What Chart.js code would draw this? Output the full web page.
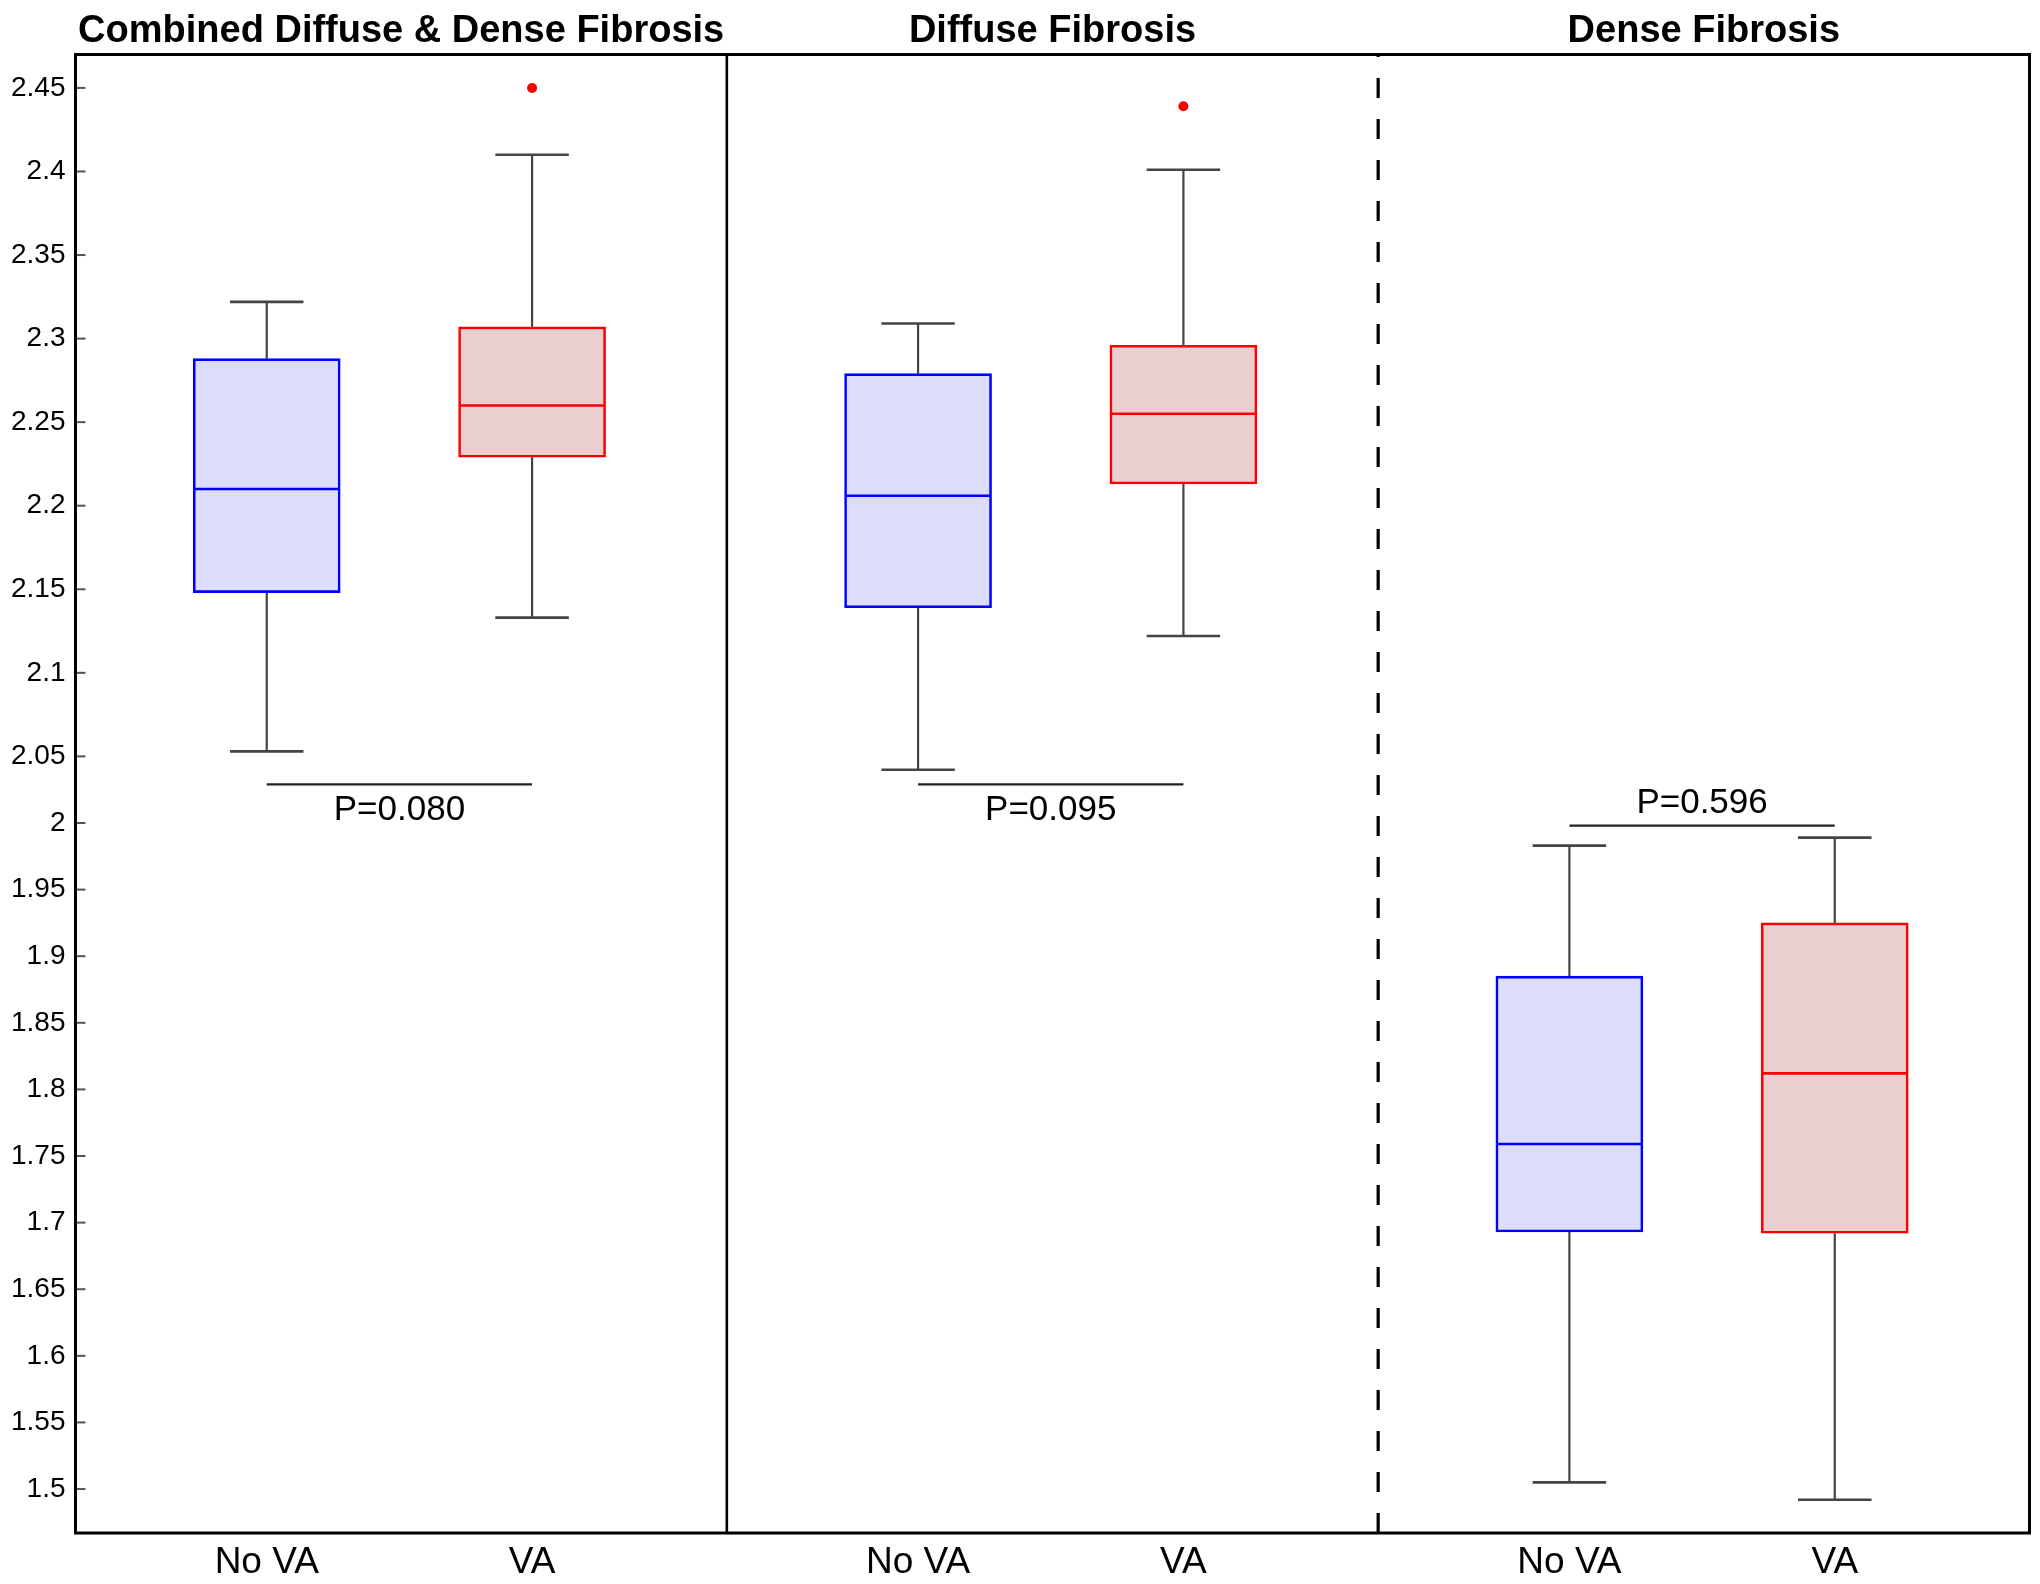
<!DOCTYPE html>
<html><head><meta charset="utf-8">
<script src="https://cdn.jsdelivr.net/npm/chart.js@4.4.1/dist/chart.umd.min.js"></script>
<style>html,body{margin:0;padding:0;background:#fff}canvas{display:block}</style>
</head><body>
<canvas id="c" width="2040" height="1584"></canvas>
<script>
// ---------- DATA ----------
const panelTitles = ['Combined Diffuse & Dense Fibrosis', 'Diffuse Fibrosis', 'Dense Fibrosis'];
const groups = ['No VA', 'VA'];
// each row: one panel, [No VA, VA]
const whiskerLow  = [[2.053, 2.133], [2.040, 2.122], [1.505, 1.492]];
const q1          = [[2.148, 2.229], [2.139, 2.213], [1.693, 1.692]];
const median      = [[2.210, 2.260], [2.206, 2.255], [1.759, 1.812]];
const q3          = [[2.288, 2.307], [2.279, 2.296], [1.885, 1.925]];
const whiskerHigh = [[2.322, 2.410], [2.309, 2.401], [1.983, 1.989]];
const outliers    = [[[], [2.450]], [[], [2.439]], [[], []]];
const pLabels     = ['P=0.080', 'P=0.095', 'P=0.596'];
const pLineValue  = [2.029, 2.029, 1.998];
const pTextAbove  = [false, false, true];
const yTicks      = [1.5, 1.55, 1.6, 1.65, 1.7, 1.75, 1.8, 1.85, 1.9, 1.95, 2, 2.05, 2.1, 2.15, 2.2, 2.25, 2.3, 2.35, 2.4, 2.45];
const yTickLabels = ['1.5', '1.55', '1.6', '1.65', '1.7', '1.75', '1.8', '1.85', '1.9', '1.95', '2', '2.05', '2.1', '2.15', '2.2', '2.25', '2.3', '2.35', '2.4', '2.45'];

// ---------- STYLE / LAYOUT ----------
const GROUP_POS = [0.2936, 0.701];          // position of groups inside a panel (panel = 1 x-unit)
const BOX_PX = 147, CAP_PX = 73.5;
const FILL = ['rgba(220,220,252,1)', 'rgba(234,207,208,1)'];
const EDGE = ['#0000ff', '#ff0000'];
const WHISKER = '#444444';
const FONT = '"Liberation Sans", Arial, Helvetica, sans-serif';

// ---------- piecewise linear y-scale ----------
class BrokenLinearScale extends Chart.LinearScale {
  _total() {
    const b = this.options.breakValue, w = this.options.upperStretch;
    return (b - this.min) + (this.max - b) * w;
  }
  _dec(v) {
    const b = this.options.breakValue, w = this.options.upperStretch;
    const t = v <= b ? (v - this.min) : (b - this.min) + (v - b) * w;
    return t / this._total();
  }
  getPixelForValue(value) {
    if (value === null || value === undefined || isNaN(value)) return NaN;
    return this.getPixelForDecimal(this._dec(+value));
  }
  getValueForPixel(pixel) {
    const b = this.options.breakValue, w = this.options.upperStretch;
    const t = this.getDecimalForPixel(pixel) * this._total();
    return t <= (b - this.min) ? this.min + t : b + (t - (b - this.min)) / w;
  }
}
BrokenLinearScale.id = 'brokenLinear';
BrokenLinearScale.defaults = Chart.LinearScale.defaults;
Chart.register(BrokenLinearScale);

// ---------- build datasets ----------
const boxData = [], boxFill = [], boxEdge = [];
const outlierData = [];
const xTickValues = [], xTickLabels = [];
for (let p = 0; p < panelTitles.length; p++) {
  for (let g = 0; g < groups.length; g++) {
    const x = p + GROUP_POS[g];
    boxData.push({x: x, y: [q1[p][g], q3[p][g]]});
    boxFill.push(FILL[g]); boxEdge.push(EDGE[g]);
    xTickValues.push(x); xTickLabels.push(groups[g]);
    outliers[p][g].forEach(v => outlierData.push({x: x, y: v}));
  }
}

function line(ctx, x1, y1, x2, y2, color, w, dash) {
  ctx.save();
  ctx.beginPath();
  ctx.strokeStyle = color; ctx.lineWidth = w;
  ctx.setLineDash(dash || []);
  ctx.moveTo(x1, y1); ctx.lineTo(x2, y2); ctx.stroke();
  ctx.restore();
}

const extras = {
  id: 'boxExtras',
  beforeDatasetsDraw(chart) {
    const {ctx, scales: {x: xs, y: ys}} = chart;
    for (let p = 0; p < panelTitles.length; p++) {
      for (let g = 0; g < groups.length; g++) {
        const px = xs.getPixelForValue(p + GROUP_POS[g]);
        const yl = ys.getPixelForValue(whiskerLow[p][g]);
        const yh = ys.getPixelForValue(whiskerHigh[p][g]);
        const y1 = ys.getPixelForValue(q1[p][g]);
        const y3 = ys.getPixelForValue(q3[p][g]);
        line(ctx, px, y3, px, yh, WHISKER, 2.2);
        line(ctx, px, y1, px, yl, WHISKER, 2.2);
        line(ctx, px - CAP_PX / 2, yh, px + CAP_PX / 2, yh, WHISKER, 2.6);
        line(ctx, px - CAP_PX / 2, yl, px + CAP_PX / 2, yl, WHISKER, 2.6);
      }
    }
  },
  afterDatasetsDraw(chart) {
    const {ctx, scales: {x: xs, y: ys}} = chart;
    for (let p = 0; p < panelTitles.length; p++) {
      for (let g = 0; g < groups.length; g++) {
        const px = xs.getPixelForValue(p + GROUP_POS[g]);
        const ym = ys.getPixelForValue(median[p][g]);
        line(ctx, px - BOX_PX / 2 + 1, ym, px + BOX_PX / 2 - 1, ym, EDGE[g], 2.6);
      }
      const xa = xs.getPixelForValue(p + GROUP_POS[0]);
      const xb = xs.getPixelForValue(p + GROUP_POS[1]);
      const yp = ys.getPixelForValue(pLineValue[p]);
      line(ctx, xa, yp, xb, yp, '#222222', 2.4);
      ctx.save();
      ctx.fillStyle = '#000';
      ctx.font = '35px ' + FONT;
      ctx.textAlign = 'center';
      ctx.textBaseline = 'middle';
      ctx.fillText(pLabels[p], (xa + xb) / 2, pTextAbove[p] ? yp - 22 : yp + 25.5);
      ctx.restore();
    }
  },
  afterDraw(chart) {
    const {ctx, chartArea: a, scales: {x: xs, y: ys}} = chart;
    // inward tick marks on y axis
    ys.ticks.forEach(t => {
      const py = ys.getPixelForValue(t.value);
      line(ctx, a.left, py, a.left + 10, py, '#555555', 2);
    });
    // panel dividers
    const d1 = xs.getPixelForValue(1), d2 = xs.getPixelForValue(2);
    line(ctx, d1, a.top, d1, a.bottom, '#000', 2.6);
    line(ctx, d2, a.bottom, d2, a.top, '#000', 3.2, [20, 21]);
    // frame
    ctx.save();
    ctx.strokeStyle = '#000'; ctx.lineWidth = 3;
    ctx.strokeRect(a.left, a.top, a.right - a.left, a.bottom - a.top);
    ctx.restore();
    // panel titles
    ctx.save();
    ctx.fillStyle = '#000';
    ctx.font = 'bold 38px ' + FONT;
    ctx.textAlign = 'center';
    ctx.textBaseline = 'alphabetic';
    for (let p = 0; p < panelTitles.length; p++) {
      ctx.fillText(panelTitles[p], xs.getPixelForValue(p + 0.5), 42);
    }
    ctx.restore();
  }
};

new Chart(document.getElementById('c'), {
  data: {
    datasets: [
      {
        type: 'bar',
        data: boxData,
        backgroundColor: boxFill,
        borderColor: boxEdge,
        borderWidth: 2.6,
        borderSkipped: false,
        barThickness: BOX_PX,
        order: 2
      },
      {
        type: 'scatter',
        data: outlierData,
        pointRadius: 5,
        pointBackgroundColor: '#ff0000',
        pointBorderWidth: 0,
        order: 1
      }
    ]
  },
  options: {
    responsive: false,
    animation: false,
    devicePixelRatio: 1,
    layout: {padding: {top: 54.5, right: 10.5, left: 0, bottom: 0}},
    plugins: {legend: {display: false}, tooltip: {enabled: false}, title: {display: false}},
    scales: {
      x: {
        type: 'linear',
        min: 0, max: 3,
        offset: false,
        grid: {display: false, drawTicks: false, offset: false},
        border: {display: false},
        afterBuildTicks: s => { s.ticks = xTickValues.map(v => ({value: v})); },
        afterFit: s => { s.height = 51; },
        ticks: {
          autoSkip: false, maxRotation: 0, padding: 8,
          color: '#000', font: {family: FONT, size: 37},
          callback: (v, i) => xTickLabels[i]
        }
      },
      y: {
        type: 'brokenLinear',
        min: 1.467, max: 2.47,
        breakValue: 2.05, upperStretch: 1.2545,
        grid: {display: false, drawTicks: false},
        border: {display: false},
        afterBuildTicks: s => { s.ticks = yTicks.map(v => ({value: v})); },
        afterFit: s => { s.width = 75.5; },
        ticks: {
          autoSkip: false, padding: 10,
          color: '#000', font: {family: FONT, size: 28},
          callback: (v, i) => yTickLabels[i]
        }
      }
    }
  },
  plugins: [extras]
});
</script>
</body></html>
